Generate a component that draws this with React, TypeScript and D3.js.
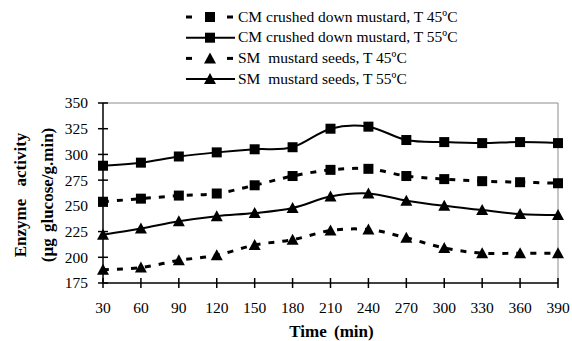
import React, { useEffect, useRef } from 'react';
import * as d3 from 'd3';

const times = [30, 60, 90, 120, 150, 180, 210, 240, 270, 300, 330, 360, 390];
const cm45 = [254, 257, 260, 262, 270, 279, 285, 286, 279, 276, 274, 273, 272];
const cm55 = [289, 292, 298, 302, 305, 307, 325, 327, 314, 312, 311, 312, 311];
const sm45 = [188, 190, 197, 202, 212, 217, 226, 227, 219, 209, 204, 204, 204];
const sm55 = [222, 228, 235, 240, 243, 248, 259, 262, 255, 250, 246, 242, 241];
const yTicks = [175, 200, 225, 250, 275, 300, 325, 350];

const seriesList = [
  { name: 'CM crushed down mustard, T 45ºC', values: cm45, dashed: true, marker: 'square' },
  { name: 'CM crushed down mustard, T 55ºC', values: cm55, dashed: false, marker: 'square' },
  { name: 'SM  mustard seeds, T 45ºC', values: sm45, dashed: true, marker: 'triangle' },
  { name: 'SM  mustard seeds, T 55ºC', values: sm55, dashed: false, marker: 'triangle' },
];

const App = () => {
  const svgRef = useRef<SVGSVGElement>(null);

  useEffect(() => {
    const svg = d3.select(svgRef.current);
    svg.selectAll('*').remove();

    const left = 103, right = 558, top = 103, bottom = 283;

    const x = d3.scaleLinear().domain([30, 390]).range([left, right]);
    const y = d3.scaleLinear().domain([175, 350]).range([bottom, top]);

    // gray frame top/right
    svg.append('path')
      .attr('d', `M${left},${top}H${right}V${bottom}`)
      .attr('fill', 'none')
      .attr('stroke', '#8c8c8c')
      .attr('stroke-width', 1);

    // y axis
    const yAxis = svg.append('g').attr('transform', `translate(${left},0)`);
    yAxis.append('line').attr('x1', 0).attr('x2', 0).attr('y1', top).attr('y2', bottom)
      .attr('stroke', '#000').attr('stroke-width', 1.5);
    yTicks.forEach(t => {
      yAxis.append('line').attr('x1', -5).attr('x2', 5).attr('y1', y(t)).attr('y2', y(t))
        .attr('stroke', '#000').attr('stroke-width', 1.5);
      yAxis.append('text').attr('x', -15).attr('y', y(t)).attr('dy', '0.35em')
        .attr('text-anchor', 'end').attr('font-size', 15.5)
        .text(t);
    });

    // x axis
    const xAxis = svg.append('g').attr('transform', `translate(0,${bottom})`);
    xAxis.append('line').attr('x1', left).attr('x2', right).attr('y1', 0).attr('y2', 0)
      .attr('stroke', '#000').attr('stroke-width', 1.5);
    times.forEach(t => {
      xAxis.append('line').attr('x1', x(t)).attr('x2', x(t)).attr('y1', -5).attr('y2', 5)
        .attr('stroke', '#000').attr('stroke-width', 1.5);
      xAxis.append('text').attr('x', x(t)).attr('y', 30)
        .attr('text-anchor', 'middle').attr('font-size', 15.5)
        .text(t);
    });

    svg.append('text')
      .attr('x', (left + right) / 2 + 1).attr('y', 337)
      .attr('text-anchor', 'middle').attr('font-size', 17)
      .attr('font-weight', 'bold').attr('word-spacing', 3).text('Time (min)');

    svg.append('text')
      .attr('transform', `translate(26,195) rotate(-90)`)
      .attr('text-anchor', 'middle').attr('font-size', 17)
      .attr('font-weight', 'bold').attr('word-spacing', 8).text('Enzyme activity');
    svg.append('text')
      .attr('transform', `translate(53,195) rotate(-90)`)
      .attr('text-anchor', 'middle').attr('font-size', 17)
      .attr('font-weight', 'bold').attr('word-spacing', 2).text('(µg glucose/g.min)');

    const line = d3.line<number>()
      .x((d, i) => x(times[i]))
      .y(d => y(d))
      .curve(d3.curveCatmullRom.alpha(0));

    const drawMarker = (g, kind, cx, cy) => {
      if (kind === 'square') {
        g.append('rect').attr('x', cx - 5).attr('y', cy - 5).attr('width', 10).attr('height', 10)
          .attr('fill', '#000');
      } else {
        g.append('path')
          .attr('d', `M${cx},${cy - 6}L${cx + 6},${cy + 5}L${cx - 6},${cy + 5}Z`)
          .attr('fill', '#000');
      }
    };

    seriesList.forEach(s => {
      const g = svg.append('g');
      g.append('path')
        .attr('d', line(s.values))
        .attr('fill', 'none')
        .attr('stroke', '#000')
        .attr('stroke-width', s.dashed ? 3 : 2)
        .attr('stroke-dasharray', s.dashed ? '6,8' : null);
      s.values.forEach((v, i) => drawMarker(g, s.marker, x(times[i]), y(v)));
    });

    // legend
    const legend = svg.append('g');
    seriesList.forEach((s, i) => {
      const ly = 17 + i * 20.7;
      const row = legend.append('g');
      if (s.dashed) {
        row.append('line').attr('x1', 186).attr('x2', 192).attr('y1', ly).attr('y2', ly)
          .attr('stroke', '#000').attr('stroke-width', 3);
        row.append('line').attr('x1', 227).attr('x2', 233).attr('y1', ly).attr('y2', ly)
          .attr('stroke', '#000').attr('stroke-width', 3);
      } else {
        row.append('line').attr('x1', 186).attr('x2', 235).attr('y1', ly).attr('y2', ly)
          .attr('stroke', '#000').attr('stroke-width', 2);
      }
      drawMarker(row, s.marker, 210, ly);
      row.append('text').attr('x', 238).attr('y', ly).attr('dy', '0.3em')
        .attr('font-size', 15.5).style('white-space', 'pre').text(s.name);
    });
  }, []);

  return (
    <svg ref={svgRef} width={572} height={341} fontFamily="'Liberation Serif', serif"
      style={{ position: 'absolute', left: 0, top: 0, background: '#fff' }} />
  );
};

export default App;
